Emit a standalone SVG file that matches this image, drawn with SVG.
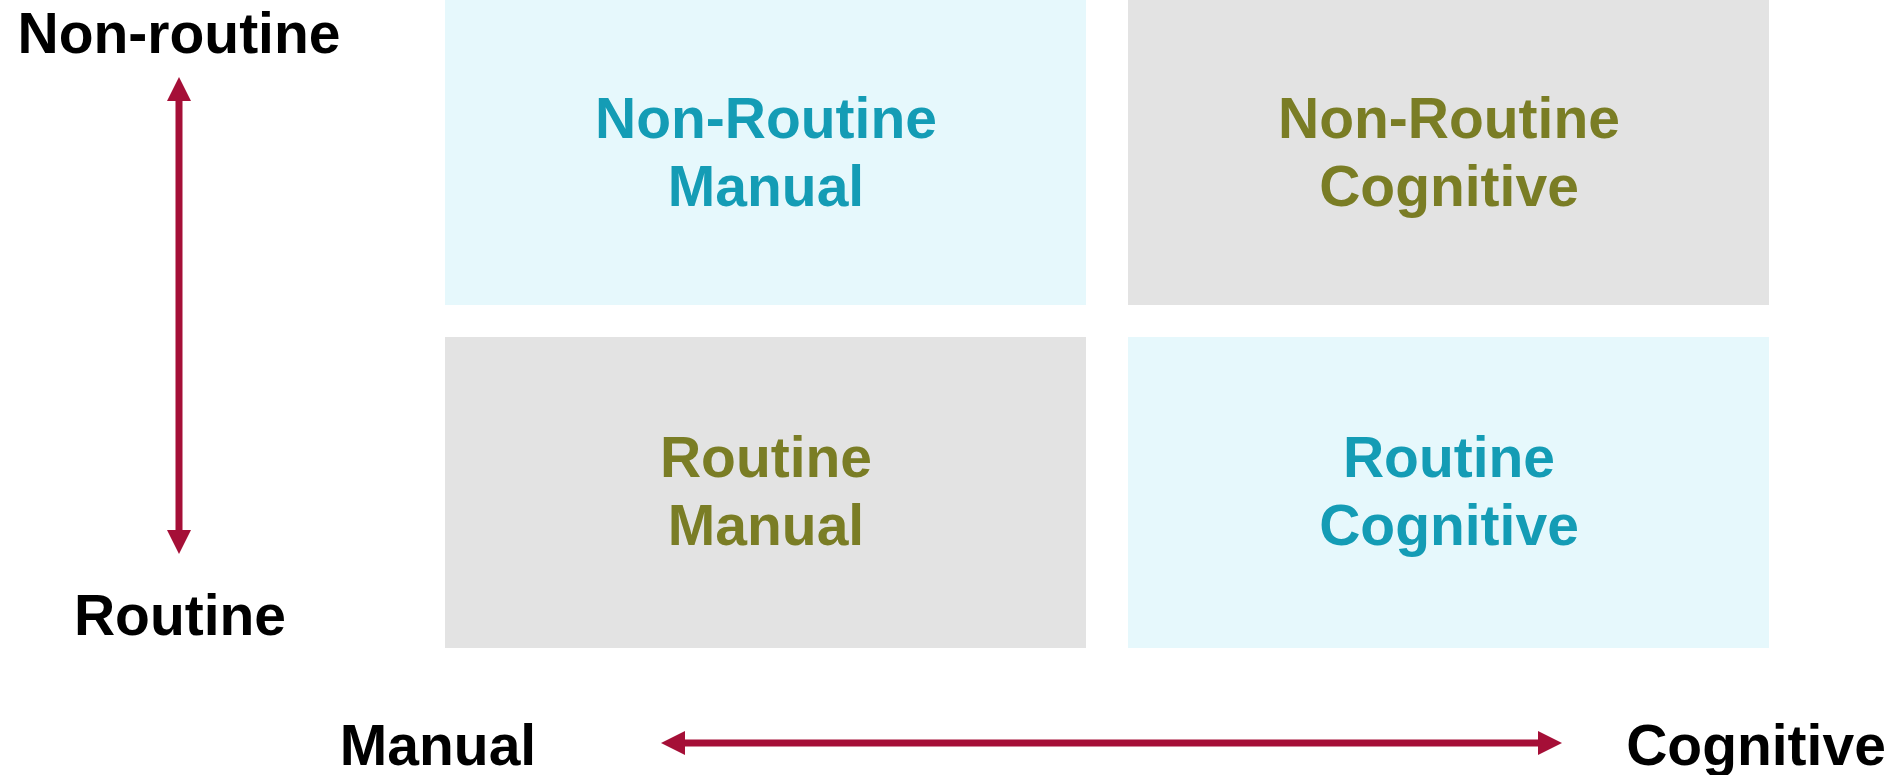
<svg xmlns="http://www.w3.org/2000/svg" width="1900" height="775" viewBox="0 0 1900 775">
  <style>
    .axis { font-family: "Liberation Sans", Arial, sans-serif; font-weight: bold; font-size: 57px; fill: #000000; text-anchor: middle; }
    .cell { font-family: "Liberation Sans", Arial, sans-serif; font-weight: bold; font-size: 57px; text-anchor: middle; }
    .teal { fill: #149CB5; }
    .olive { fill: #7A7D25; }
    .bg-cyan { fill: #E6F8FC; }
    .bg-gray { fill: #E3E3E3; }
    .conn { stroke: #A50F37; stroke-width: 7; fill: none; }
  </style>
  <defs>
    <!-- arrowhead: tip sits 20px beyond the line end, so the shaft stays hidden inside the head -->
    <marker id="head" viewBox="0 0 24 24" refX="4" refY="12" markerWidth="24" markerHeight="24" markerUnits="userSpaceOnUse" orient="auto-start-reverse">
      <path d="M0,0 L24,12 L0,24 Z" fill="#A50F37"/>
    </marker>
  </defs>
  <rect width="1900" height="775" fill="#FFFFFF"/>

  <g id="non-routine-manual">
    <rect class="bg-cyan" x="445" y="0" width="641" height="305"/>
    <text class="cell teal" x="766" y="138">Non-Routine</text>
    <text class="cell teal" x="766" y="206">Manual</text>
  </g>
  <g id="non-routine-cognitive">
    <rect class="bg-gray" x="1128" y="0" width="641" height="305"/>
    <text class="cell olive" x="1449" y="138">Non-Routine</text>
    <text class="cell olive" x="1449" y="206">Cognitive</text>
  </g>
  <g id="routine-manual">
    <rect class="bg-gray" x="445" y="337" width="641" height="311"/>
    <text class="cell olive" x="766" y="477">Routine</text>
    <text class="cell olive" x="766" y="545">Manual</text>
  </g>
  <g id="routine-cognitive">
    <rect class="bg-cyan" x="1128" y="337" width="641" height="311"/>
    <text class="cell teal" x="1449" y="477">Routine</text>
    <text class="cell teal" x="1449" y="545">Cognitive</text>
  </g>

  <g id="label-non-routine"><text class="axis" x="179" y="53">Non-routine</text></g>
  <g id="label-routine"><text class="axis" x="180" y="635">Routine</text></g>
  <g id="label-manual"><text class="axis" x="438" y="765">Manual</text></g>
  <g id="label-cognitive"><text class="axis" x="1756" y="765">Cognitive</text></g>

  <g id="connectors">
    <line class="conn" x1="179" y1="97" x2="179" y2="534" marker-start="url(#head)" marker-end="url(#head)"/>
    <line class="conn" x1="681" y1="743" x2="1542" y2="743" marker-start="url(#head)" marker-end="url(#head)"/>
  </g>
</svg>
